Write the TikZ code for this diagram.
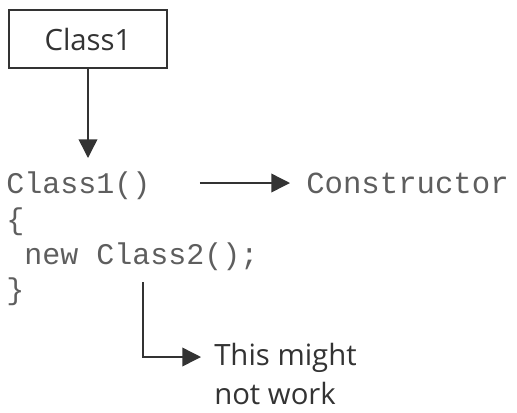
\documentclass[tikz,border=0pt]{standalone}
\usepackage{fontspec}
\setmainfont{Open Sans}
\newfontfamily\codefont{Liberation Mono}
\usetikzlibrary{arrows.meta}
\definecolor{linegray}{HTML}{333333}
\definecolor{codegray}{HTML}{5E5E5E}
\begin{document}
\begin{tikzpicture}[x=0.75pt,y=-0.75pt,
  conn/.style={draw=linegray,line width=1.1pt,-{Triangle[length=14pt,width=14pt]}},
  codeline/.style={anchor=base west,inner sep=0pt,text=codegray,font=\codefont\fontsize{22.5pt}{26pt}\selectfont},
  sanstext/.style={text=linegray,font=\fontsize{22pt}{29pt}\selectfont},
  classbox/.style={draw=linegray,line width=0.9pt,minimum width=118.5pt,minimum height=43.5pt,inner sep=0pt}]
\useasboundingbox (0,0) rectangle (517,412);
\node[classbox,sanstext] (cls) at (88,39) {Class1};
\node[codeline] (c1) at (6,193) {Class1()};
\node[codeline] (c2) at (6,229) {\{};
\node[codeline] (c3) at (6,264) {\ new Class2();};
\node[codeline] (c4) at (6,299) {\}};
\node[codeline,font=\codefont\fontsize{23pt}{26pt}\selectfont] (ctor) at (306,193) {Constructor};
\node[sanstext,anchor=north west,align=left,inner sep=0pt] (note) at (214,343) {This might\\not work};
\coordinate (bstart) at (143,282);
\coordinate (bcorner) at (143,357);
\coordinate (bend) at (201,357);
\draw[conn] (cls.south) -- (88,158);
\draw[conn,shorten <=37pt,shorten >=12pt] (c1.east |- 0,183) -- (ctor.west |- 0,183);
\draw[conn] (bstart) -- (bcorner) -- (bend);
\end{tikzpicture}
\end{document}
